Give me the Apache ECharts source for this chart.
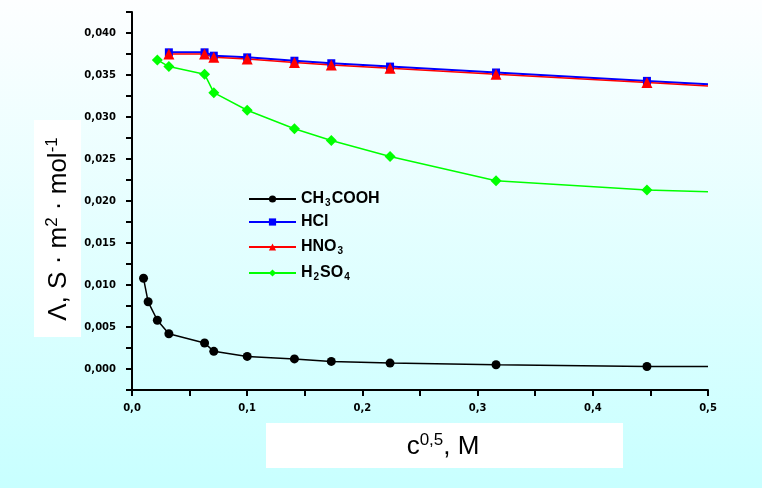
<!DOCTYPE html>
<html>
<head>
<meta charset="utf-8">
<script src="https://cdn.jsdelivr.net/npm/echarts@6/dist/echarts.min.js"></script>
<style>html,body{margin:0;padding:0;}#c{width:762px;height:488px;}</style>
</head>
<body>
<div id="c"></div>
<script>
// ---- data ----
const xCH = [0.010, 0.014, 0.022, 0.032, 0.063, 0.071, 0.100, 0.141, 0.173, 0.224, 0.316, 0.447, 0.500];
const yCH = [0.0108, 0.0080, 0.0058, 0.0042, 0.0031, 0.0021, 0.0015, 0.0012, 0.0009, 0.0007, 0.0005, 0.0003, 0.0003];
const xAcid = [0.032, 0.063, 0.071, 0.100, 0.141, 0.173, 0.224, 0.316, 0.447, 0.500];
const yHCl  = [0.0377, 0.0377, 0.0373, 0.0371, 0.0367, 0.0364, 0.0360, 0.0353, 0.0343, 0.0339];
const yHNO3 = [0.0375, 0.0375, 0.0371, 0.0369, 0.0365, 0.0362, 0.0358, 0.0351, 0.0341, 0.0337];
const xH2 = [0.022, 0.032, 0.063, 0.071, 0.100, 0.141, 0.173, 0.224, 0.316, 0.447, 0.500];
const yH2 = [0.0368, 0.0360, 0.0351, 0.0329, 0.0308, 0.0286, 0.0272, 0.0253, 0.0224, 0.0213, 0.0211];
const seriesNames = ['CH3COOH', 'HCl', 'HNO3', 'H2SO4'];
const legendLabels = {
  'CH3COOH': '{b|CH}{s|3}{b|COOH}',
  'HCl': '{b|HCl}',
  'HNO3': '{b|HNO}{s|3}',
  'H2SO4': '{b|H}{s|2}{b|SO}{s|4}'
};
const yAxisTitle = '{a|Λ, S · m}{p|2}{a| · mol}{p|-1}';
const xAxisTitle = '{a|c}{p|0,5}{a|, M}';

function build(xs, ys) {
  return xs.map((x, i) => i === xs.length - 1 ? { value: [x, ys[i]], symbol: 'none' } : [x, ys[i]]);
}

const chart = echarts.init(document.getElementById('c'));
const tickFont = { fontFamily: 'DejaVu Sans', fontWeight: 'bold', fontSize: 10, color: '#000' };

chart.setOption({
  backgroundColor: new echarts.graphic.LinearGradient(0, 0, 0, 1, [
    { offset: 0, color: '#fdfeff' },
    { offset: 1, color: '#c8ffff' }
  ]),
  animation: false,
  grid: { left: 132, right: 54, top: 12, bottom: 98 },
  xAxis: {
    type: 'value', min: 0, max: 0.5, interval: 0.05,
    axisLine: { onZero: false, lineStyle: { color: '#000', width: 2 } },
    axisTick: { length: 6, lineStyle: { color: '#000', width: 2 } },
    splitLine: { show: false },
    axisLabel: Object.assign({ margin: 13, formatter: v => {
      const n = Math.round(v / 0.05);
      return n % 2 === 0 ? (n / 20).toFixed(1).replace('.', ',') : '';
    } }, tickFont)
  },
  yAxis: {
    type: 'value', min: -0.0025, max: 0.0425, interval: 0.0025,
    axisLine: { show: true, onZero: false, lineStyle: { color: '#000', width: 2 } },
    axisTick: { show: true, length: 6, lineStyle: { color: '#000', width: 2 } },
    splitLine: { show: false },
    axisLabel: Object.assign({ margin: 16, formatter: v => {
      const n = Math.round(v / 0.0025);
      return (n >= 0 && n % 2 === 0 && n <= 16) ? (n * 0.0025).toFixed(3).replace('.', ',') : '';
    } }, tickFont)
  },
  legend: {
    orient: 'vertical', left: 248, top: 188, padding: 0, itemWidth: 47, itemHeight: 9, itemGap: 6,
    data: seriesNames,
    formatter: n => legendLabels[n],
    textStyle: {
      rich: {
        b: { fontFamily: 'Liberation Sans', fontWeight: 'bold', fontSize: 16, color: '#000', lineHeight: 18 },
        s: { fontFamily: 'Liberation Sans', fontWeight: 'bold', fontSize: 10, color: '#000', verticalAlign: 'bottom', lineHeight: 10, padding: [10, 1, 0, 1] }
      }
    }
  },
  series: [
    { name: 'CH3COOH', type: 'line', data: build(xCH, yCH), symbol: 'circle', symbolSize: 9,
      lineStyle: { color: '#000', width: 1.5 }, itemStyle: { color: '#000' } },
    { name: 'HCl', type: 'line', data: build(xAcid, yHCl), symbol: 'rect', symbolSize: 8,
      lineStyle: { color: '#0000ff', width: 2 }, itemStyle: { color: '#0000ff' } },
    { name: 'HNO3', type: 'line', data: build(xAcid, yHNO3), symbol: 'triangle', symbolSize: 11,
      lineStyle: { color: '#ff0000', width: 1.5 }, itemStyle: { color: '#ff0000' } },
    { name: 'H2SO4', type: 'line', data: build(xH2, yH2), symbol: 'diamond', symbolSize: 11,
      lineStyle: { color: '#00ff00', width: 1.5 }, itemStyle: { color: '#00ff00' } }
  ],
  graphic: [
    { type: 'rect', left: 34, top: 120, shape: { width: 47, height: 217 }, style: { fill: '#fff' }, z: 1 },
    { type: 'text', x: 59, y: 229, rotation: Math.PI / 2, z: 2,
      style: { text: yAxisTitle, align: 'center', verticalAlign: 'middle',
        rich: {
          a: { fontFamily: 'Liberation Sans', fontSize: 26, color: '#111', lineHeight: 30 },
          p: { fontFamily: 'Liberation Sans', fontSize: 17, color: '#111', verticalAlign: 'top', lineHeight: 20 }
        } } },
    { type: 'rect', left: 266, top: 423, shape: { width: 357, height: 45 }, style: { fill: '#fff' }, z: 1 },
    { type: 'text', x: 443, y: 447, z: 2,
      style: { text: xAxisTitle, align: 'center', verticalAlign: 'middle',
        rich: {
          a: { fontFamily: 'Liberation Sans', fontSize: 26, color: '#111', lineHeight: 30 },
          p: { fontFamily: 'Liberation Sans', fontSize: 17, color: '#111', verticalAlign: 'top', lineHeight: 20 }
        } } }
  ]
});
</script>
</body>
</html>
